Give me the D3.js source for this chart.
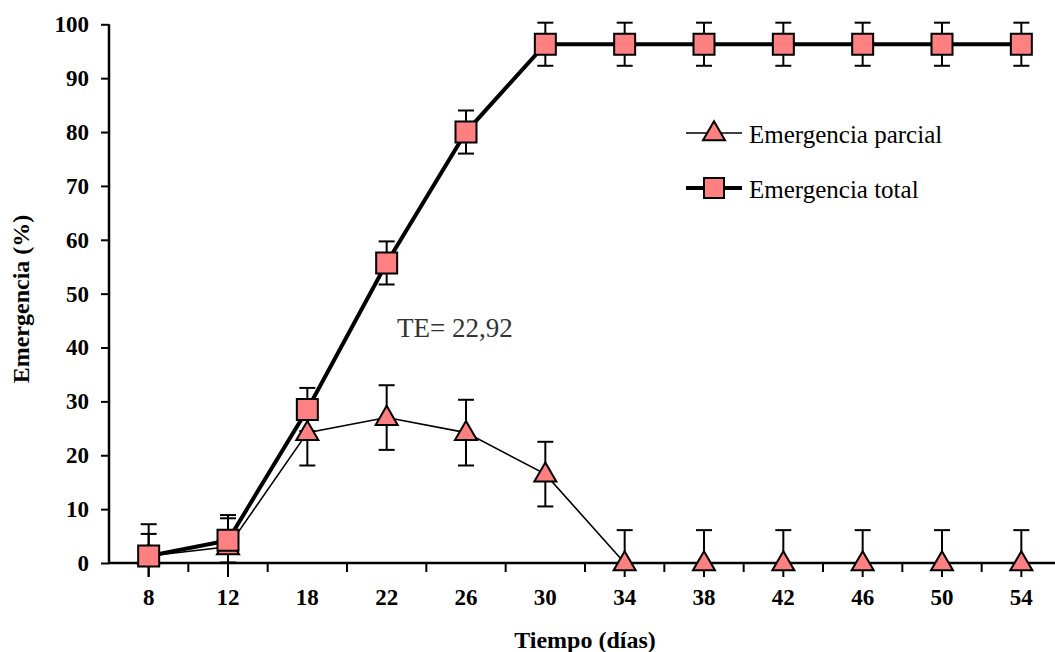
<!DOCTYPE html>
<html>
<head>
  <meta charset="utf-8">
  <title>Emergencia</title>
  <style>
    body { margin: 0; background: #fff; }
  </style>
</head>
<body>
<script src="https://d3js.org/d3.v7.min.js"></script>
<script>
  var width = 1055;
  var height = 652;
  var serif = "'Liberation Serif', 'Times New Roman', Times, 'DejaVu Serif', serif";

  var dias = ['8', '12', '18', '22', '26', '30', '34', '38', '42', '46', '50', '54'];
  var parcial = [1.3, 3, 24.2, 27, 24.2, 16.5, 0, 0, 0, 0, 0, 0];
  var parcialErr = [5.9, 5.9, 6.1, 6, 6.1, 6, 6.1, 6.1, 6.1, 6.1, 6.1, 6.1];
  var total = [1.3, 4.2, 28.5, 55.7, 80, 96.3, 96.3, 96.3, 96.3, 96.3, 96.3, 96.3];
  var totalErr = [4.1, 4.1, 4, 4, 4, 4, 4, 4, 4, 4, 4, 4];
  var yTicks = [0, 10, 20, 30, 40, 50, 60, 70, 80, 90, 100];

  var svg = d3.select('body')
    .append('svg')
      .attr('width', width)
      .attr('height', height)
      .style('font-family', serif);

  var x = d3.scaleBand()
    .domain(dias)
    .range([109, 1061]);

  var y = d3.scaleLinear()
    .domain([0, 100])
    .range([563, 24.3]);

  // clip area, a bit below zero like the original plot area
  svg.append('clipPath')
      .attr('id', 'plot')
    .append('rect')
      .attr('x', 109)
      .attr('y', 0)
      .attr('width', 960)
      .attr('height', 577);

  // y axis
  var yAxis = svg.append('g')
    .attr('transform', 'translate(109,0)')
    .call(d3.axisLeft(y).tickValues(yTicks).tickSize(8).tickPadding(12));
  yAxis.attr('font-family', null);
  yAxis.select('.domain').attr('stroke-width', 2.5).attr('d', 'M0,' + y(100) + 'V' + y(0));
  yAxis.selectAll('.tick line').attr('stroke-width', 2);
  yAxis.selectAll('.tick text')
    .attr('font-size', 23)
    .attr('font-weight', 'bold')
    .style('font-family', serif);

  // x axis: ticks at category boundaries
  var xAxis = svg.append('g')
    .attr('transform', 'translate(0,' + y(0) + ')');
  xAxis.append('line')
    .attr('x1', 109).attr('x2', 1061)
    .attr('stroke', '#000').attr('stroke-width', 2.5);
  xAxis.selectAll('.bound')
    .data(dias.slice(1))
    .enter().append('line')
      .attr('x1', function(d) { return x(d); })
      .attr('x2', function(d) { return x(d); })
      .attr('y1', 0).attr('y2', 9)
      .attr('stroke', '#000').attr('stroke-width', 2);
  xAxis.selectAll('.lab')
    .data(dias)
    .enter().append('text')
      .attr('x', function(d) { return x(d) + x.bandwidth() / 2; })
      .attr('y', 42)
      .attr('text-anchor', 'middle')
      .attr('font-size', 23)
      .attr('font-weight', 'bold')
      .text(function(d) { return d; });

  svg.append('text')
    .attr('x', 585)
    .attr('y', 648)
    .attr('text-anchor', 'middle')
    .attr('font-size', 24)
    .attr('font-weight', 'bold')
    .text('Tiempo (días)');

  svg.append('text')
    .attr('transform', 'translate(29,299) rotate(-90)')
    .attr('text-anchor', 'middle')
    .attr('font-size', 24)
    .attr('font-weight', 'bold')
    .text('Emergencia (%)');

  svg.append('text')
    .attr('x', 397)
    .attr('y', 337)
    .attr('font-size', 27)
    .attr('fill', '#333')
    .text('TE= 22,92');

  var cx = function(i) { return x(dias[i]) + x.bandwidth() / 2; };
  var plot = svg.append('g').attr('clip-path', 'url(#plot)');
  var fill = '#FF8080';
  var tri = d3.symbol().type(d3.symbolTriangle).size(210);

  function series(vals, errs, lw, marker) {
    var line = d3.line()
      .x(function(d, i) { return cx(i); })
      .y(function(d) { return y(d); });
    plot.append('path')
      .datum(vals)
      .attr('d', line)
      .attr('fill', 'none')
      .attr('stroke', '#000')
      .attr('stroke-width', lw);

    var eb = plot.append('g').selectAll('g')
      .data(vals)
      .enter().append('g');
    eb.append('line')
      .attr('x1', function(d, i) { return cx(i); })
      .attr('x2', function(d, i) { return cx(i); })
      .attr('y1', function(d, i) { return y(d + errs[i]); })
      .attr('y2', function(d, i) { return y(d - errs[i]); })
      .attr('stroke', '#000').attr('stroke-width', 2);
    eb.append('line')
      .attr('x1', function(d, i) { return cx(i) - 8; })
      .attr('x2', function(d, i) { return cx(i) + 8; })
      .attr('y1', function(d, i) { return y(d + errs[i]); })
      .attr('y2', function(d, i) { return y(d + errs[i]); })
      .attr('stroke', '#000').attr('stroke-width', 2);
    eb.append('line')
      .attr('x1', function(d, i) { return cx(i) - 8; })
      .attr('x2', function(d, i) { return cx(i) + 8; })
      .attr('y1', function(d, i) { return y(d - errs[i]); })
      .attr('y2', function(d, i) { return y(d - errs[i]); })
      .attr('stroke', '#000').attr('stroke-width', 2);

    var m = svg.append('g').selectAll('path')
      .data(vals)
      .enter().append('path')
        .attr('fill', fill)
        .attr('stroke', '#000')
        .attr('stroke-width', 2);
    if (marker === 'square') {
      m.attr('d', function(d, i) {
        return 'M' + (cx(i) - 10.5) + ',' + (y(d) - 10.5) + 'h21v21h-21z';
      });
    } else {
      m.attr('d', tri)
        .attr('transform', function(d, i) { return 'translate(' + cx(i) + ',' + (y(d) + 1) + ')'; });
    }
  }

  series(parcial, parcialErr, 1.6, 'triangle');
  series(total, totalErr, 4, 'square');

  // legend
  var legend = svg.append('g');
  var items = [
    { name: 'Emergencia parcial', lw: 1.6, marker: 'triangle', y: 133 },
    { name: 'Emergencia total', lw: 4, marker: 'square', y: 188 }
  ];
  items.forEach(function(it) {
    legend.append('line')
      .attr('x1', 686).attr('x2', 742)
      .attr('y1', it.y).attr('y2', it.y)
      .attr('stroke', '#000').attr('stroke-width', it.lw);
    if (it.marker === 'square') {
      legend.append('rect')
        .attr('x', 704).attr('y', it.y - 10)
        .attr('width', 20).attr('height', 20)
        .attr('fill', fill).attr('stroke', '#000').attr('stroke-width', 2);
    } else {
      legend.append('path')
        .attr('d', tri)
        .attr('transform', 'translate(714,' + (it.y + 1) + ')')
        .attr('fill', fill).attr('stroke', '#000').attr('stroke-width', 2);
    }
    legend.append('text')
      .attr('x', 749)
      .attr('y', it.y + 10)
      .attr('font-size', 25)
      .text(it.name);
  });
</script>
</body>
</html>
